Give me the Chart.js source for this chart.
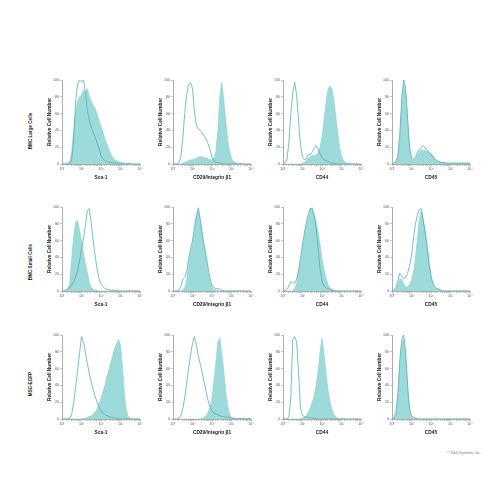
<!DOCTYPE html>
<html>
<head>
<meta charset="utf-8">
<script src="https://cdn.jsdelivr.net/npm/chart.js@4.4.0/dist/chart.umd.min.js"></script>
<style>
  body { margin: 0; background: #fff; }
  #wrap { position: relative; width: 500px; height: 500px; overflow: hidden; }
  #wrap canvas { position: absolute; }
  .rowLabel {
    position: absolute;
    font: bold 4.6px 'Liberation Sans Narrow', 'Liberation Sans', sans-serif;
    color: #222;
    white-space: nowrap;
    transform: translate(-50%, -50%) rotate(-90deg);
  }
  #copy {
    position: absolute; left: 447px; top: 451px;
    font: 3.6px 'Liberation Sans Narrow', 'Liberation Sans', sans-serif;
    color: #777; white-space: nowrap;
  }
</style>
</head>
<body>
<div id="wrap"></div>
<script>
// fluorescence channel, in decades (10^0 .. 10^4)
const CHANNELS = [0.0, 0.1, 0.2, 0.3, 0.4, 0.5, 0.6, 0.7, 0.8, 0.9,
                  1.0, 1.1, 1.2, 1.3, 1.4, 1.5, 1.6, 1.7, 1.8, 1.9,
                  2.0, 2.1, 2.2, 2.3, 2.4, 2.5, 2.6, 2.7, 2.8, 2.9,
                  3.0, 3.1, 3.2, 3.3, 3.4, 3.5, 3.6, 3.7, 3.8, 3.9, 4.0];

const rowLabels = ['BMC Large Cells', 'BMC Small Cells', 'MSC-EGFP'];
const markerLabels = ['Sca-1', 'CD29/Integrin \u03b21', 'CD44', 'CD45'];
const yTicks = [0, 20, 40, 60, 80, 100];
const xDecades = ['10\u2070', '10\u00b9', '10\u00b2', '10\u00b3', '10\u2074'];

// BMC large cells
const largeSca1Stained   = [0,0,0,1,3,15,40,62,75,80, 82,88,85,90,80,75,70,66,60,52, 45,38,30,24,18,12,8,5,4,3, 2,2,1,1,1,0.5,0,0,0,0,0];
const largeSca1Isotype   = [0,0,0,0,0,5,30,75,95,100, 98,100,85,65,52,44,38,32,25,18, 10,6,4,3,2,2,1.5,1,1,0.5, 0,0,0,0,0,0,0,0,0,0,0];
const largeCD29Stained   = [0,0,0,0,0,1,2,3,4,5, 5,6,7,8,9,8,8,7,6,5, 5,7,15,40,80,97,78,52,30,16, 7,3,2,1,1,0.5,0,0,0,0,0];
const largeCD29Isotype   = [0,0,0,2,8,30,60,82,95,97, 90,62,46,42,40,37,33,29,24,17, 8,4,2,1.5,1,0.5,0,0,0,0, 0,0,0,0,0,0,0,0,0,0,0];
const largeCD44Stained   = [0,0,0,0,0,0,0,0,0,0, 1,2,4,7,9,10,10,11,13,20, 32,52,72,88,93,90,78,58,38,20, 9,4,2,1,0.5,0,0,0,0,0,0];
const largeCD44Isotype   = [0,1,5,25,60,85,97,82,50,22, 8,5,6,12,11,14,19,22,18,12, 8,5,4,3,2,1,1,0.5,0,0, 0,0,0,0,0,0,0,0,0,0,0];
const largeCD45Stained   = [0,0,2,8,30,70,95,85,50,18, 6,4,6,10,14,17,16,16,15,14, 12,9,6,4,3,2,2,1.5,1,1, 1,1,1,1,1,1,1,1,1,1,1];
const largeCD45Isotype   = [0,1,3,10,35,80,100,90,55,20, 7,5,8,13,17,20,22,19,16,14, 12,9,6,4,3,2,2,1.5,1,1, 1,1,1,1,1,1,1,1,1,1,1];

// BMC small cells
const smallSca1Stained   = [0,0,0,2,10,40,65,82,84,72, 60,45,32,22,10,4,2,1,0.5,0, 0,0,0,0,0,0,0,0,0,0, 0,0,0,0,0,0,0,0,0,0,0];
const smallSca1Isotype   = [0,0,1,3,4,7,11,17,24,36, 50,62,78,96,98,80,60,42,26,15, 8,5,3,2,2,1,1,1,0.5,0, 0,0,0,0,0,0,0,0,0,0,0];
const smallCD29Stained   = [0,0,0,0,0,1,4,12,30,45, 55,70,88,96,82,66,52,38,22,10, 4,2,1,0.5,0,0,0,0,0,0, 0,0,0,0,0,0,0,0,0,0,0];
const smallCD29Isotype   = [0,0,0,1,5,14,16,22,38,50, 60,76,90,99,85,68,55,42,28,15, 6,4,3,3,2,1,0.5,0,0,0, 0,0,0,0,0,0,0,0,0,0,0];
const smallCD44Stained   = [0,0,0,0,0,0,3,9,22,35, 50,66,78,88,98,99,90,82,70,55, 38,26,16,8,4,2,1,0.5,0,0, 0,0,0,0,0,0,0,0,0,0,0];
const smallCD44Isotype   = [0,0,2,6,11,10,9,14,25,40, 55,70,82,92,98,97,90,75,50,26, 12,6,4,3,2,1,0.5,0,0,0, 0,0,0,0,0,0,0,0,0,0,0];
const smallCD45Stained   = [0,0,2,8,14,14,9,5,5,8, 13,22,38,62,85,95,86,72,55,35, 18,8,4,3,2,1,0,0,0,0, 0,0,0,0,0,0,0,0,0,0,0];
const smallCD45Isotype   = [0,1,4,12,21,18,15,16,21,30, 42,62,80,90,97,98,84,70,52,32, 18,9,5,3,2,1,0,0,0,0, 0,0,0,0,0,0,0,0,0,0,0];

// MSC-EGFP
const mscSca1Stained     = [0,0,0,0,0,0,0,0,0,0, 0,1,1,2,3,4,6,8,12,18, 25,32,40,50,58,67,76,84,90,95, 88,62,30,10,3,1,0,0,0,0,0];
const mscSca1Isotype     = [0,0,0,0,1,6,20,38,58,78, 98,92,80,66,54,44,35,27,20,14, 10,7,5,4,3,2,2,1,1,0.5, 0,0,0,0,0,0,0,0,0,0,0];
const mscCD29Stained     = [0,0,0,0,0,0,0,0,0,0, 0,0,0,0,0,1,2,4,8,14, 26,44,68,92,96,78,58,34,16,6, 2,1,0,0,0,0,0,0,0,0,0];
const mscCD29Isotype     = [0,0,0,1,4,12,25,42,60,76, 90,98,88,75,65,55,44,32,22,14, 10,7,6,5,4,3,3,2,2,2, 1,1,0.5,0.5,0.5,0.5,0.5,0.5,0.5,0.5,0.5];
const mscCD44Stained     = [0,0,0,0,0,0,0,0,0,0, 1,2,4,8,13,20,28,40,58,80, 96,78,56,36,22,12,6,3,1,0.5, 0,0,0,0,0,0,0,0,0,0,0];
const mscCD44Isotype     = [0,0,0,2,25,95,98,92,55,12, 4,3,2,2,1.5,1,1,0.5,0,0, 0,0,0,0,0,0,0,0,0,0, 0,0,0,0,0,0,0,0,0,0,0];
const mscCD45Stained     = [0,0,5,25,62,90,96,75,35,10, 3,1,0.5,0,0,0,0,0,0,0, 0,0,0,0,0,0,0,0,0,0, 0,0,0,0,0,0,0,0,0,0,0];
const mscCD45Isotype     = [0,1,8,30,70,95,100,80,40,12, 4,2,1,0.5,0,0,0,0,0,0, 0,0,0,0,0,0,0,0,0,0, 0,0,0,0,0,0,0,0,0,0,0];

const panels = [
  [[largeSca1Stained, largeSca1Isotype], [largeCD29Stained, largeCD29Isotype], [largeCD44Stained, largeCD44Isotype], [largeCD45Stained, largeCD45Isotype]],
  [[smallSca1Stained, smallSca1Isotype], [smallCD29Stained, smallCD29Isotype], [smallCD44Stained, smallCD44Isotype], [smallCD45Stained, smallCD45Isotype]],
  [[mscSca1Stained, mscSca1Isotype], [mscCD29Stained, mscCD29Isotype], [mscCD44Stained, mscCD44Isotype], [mscCD45Stained, mscCD45Isotype]],
];

// layout of the grid (plot area corners, px)
const PLOT_LEFT = [62, 173, 283, 392];
const PLOT_TOP = [80, 207, 335];
const PLOT_W = 78, PLOT_H = 84;
const Y_AXIS_W = 24, X_AXIS_H = 20, PAD_TOP = 4, PAD_RIGHT = 4;
const ROW_LABEL_Y = [131, 262, 384];

const FONT = "'Liberation Sans Narrow', 'Liberation Sans', sans-serif";
const AXIS_COLOR = '#8a8a8a';
const FILL_COLOR = 'rgba(140, 212, 212, 0.85)';
const FILL_EDGE = '#86cfcf';
const LINE_COLOR = '#55aeb1';

const wrap = document.getElementById('wrap');

const toPoints = (values) => CHANNELS.map((d, i) => ({ x: Math.pow(10, d), y: values[i] }));

const decadeLabel = (value) => {
  const e = Math.log10(value);
  const r = Math.round(e);
  if (Math.abs(e - r) < 1e-6 && r >= 0 && r < xDecades.length) return xDecades[r];
  return '';
};

rowLabels.forEach((label, r) => {
  const div = document.createElement('div');
  div.className = 'rowLabel';
  div.textContent = label;
  div.style.left = '30px';
  div.style.top = ROW_LABEL_Y[r] + 'px';
  wrap.appendChild(div);
});

panels.forEach((row, r) => {
  row.forEach(([stained, isotype], c) => {
    const canvas = document.createElement('canvas');
    const w = Y_AXIS_W + PLOT_W + PAD_RIGHT;
    const h = PAD_TOP + PLOT_H + X_AXIS_H;
    canvas.width = w;
    canvas.height = h;
    canvas.style.width = w + 'px';
    canvas.style.height = h + 'px';
    canvas.style.left = (PLOT_LEFT[c] - Y_AXIS_W) + 'px';
    canvas.style.top = (PLOT_TOP[r] - PAD_TOP) + 'px';
    wrap.appendChild(canvas);

    new Chart(canvas.getContext('2d'), {
      type: 'line',
      data: {
        datasets: [
          {
            data: toPoints(stained),
            fill: 'origin',
            backgroundColor: FILL_COLOR,
            borderColor: FILL_EDGE,
            borderWidth: 0.6,
            pointRadius: 0,
            tension: 0,
            order: 2,
          },
          {
            data: toPoints(isotype),
            fill: false,
            borderColor: LINE_COLOR,
            borderWidth: 0.8,
            pointRadius: 0,
            tension: 0,
            order: 1,
          },
        ],
      },
      options: {
        responsive: false,
        animation: false,
        events: [],
        devicePixelRatio: 1,
        layout: { padding: { top: PAD_TOP, right: PAD_RIGHT, left: 0, bottom: 0 } },
        plugins: { legend: { display: false }, tooltip: { enabled: false } },
        scales: {
          x: {
            type: 'logarithmic',
            min: 1,
            max: 10000,
            afterFit: (scale) => { scale.height = X_AXIS_H; },
            border: { display: true, color: AXIS_COLOR, width: 0.7 },
            grid: { drawOnChartArea: false, drawTicks: true, tickLength: 2, color: AXIS_COLOR, lineWidth: 0.5 },
            ticks: {
              autoSkip: false,
              maxRotation: 0,
              padding: 1,
              color: '#555',
              font: { family: FONT, size: 3.6 },
              callback: (value) => decadeLabel(value),
            },
            title: {
              display: true,
              text: markerLabels[c],
              color: '#222',
              padding: { top: 0, bottom: 3 },
              font: { family: FONT, size: 4.8, weight: 'bold' },
            },
          },
          y: {
            min: 0,
            max: 100,
            afterBuildTicks: (scale) => { scale.ticks = yTicks.map((v) => ({ value: v })); },
            afterFit: (scale) => { scale.width = Y_AXIS_W; },
            border: { display: true, color: AXIS_COLOR, width: 0.7 },
            grid: { drawOnChartArea: false, drawTicks: true, tickLength: 2, color: AXIS_COLOR, lineWidth: 0.5 },
            ticks: {
              padding: 1,
              color: '#555',
              font: { family: FONT, size: 3.6 },
            },
            title: {
              display: true,
              text: 'Relative Cell Number',
              color: '#222',
              padding: { top: 9, bottom: 0 },
              font: { family: FONT, size: 4.8, weight: 'bold' },
            },
          },
        },
      },
    });
  });
});

const copy = document.createElement('div');
copy.id = 'copy';
copy.textContent = '\u00a9 R&D Systems, Inc.';
wrap.appendChild(copy);
</script>
</body>
</html>
